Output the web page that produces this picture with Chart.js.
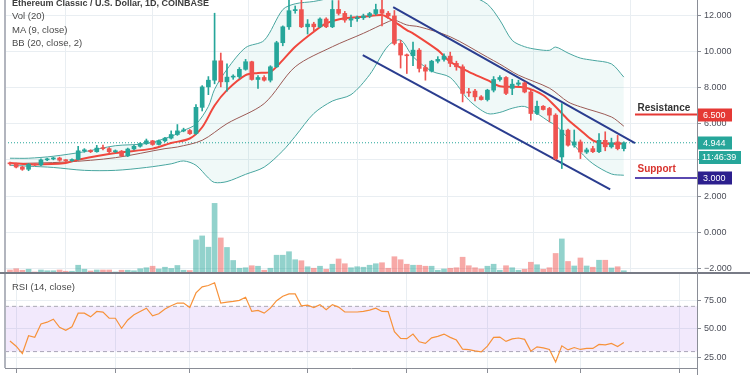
<!DOCTYPE html>
<html>
<head>
<meta charset="utf-8">
<script src="https://cdn.jsdelivr.net/npm/chart.js@4.4.0/dist/chart.umd.min.js"></script>
<style>
  body { margin: 0; background: #fff; }
  #wrap { position: relative; width: 750px; height: 375px; overflow: hidden; font-family: "Liberation Sans", Arial, sans-serif; }
  canvas { position: absolute; left: 0; }
  #main { top: 0; }
  #rsi { top: 274px; }
  .lbl { position: absolute; left: 12px; font-size: 9.5px; line-height: 12px; color: #4a4a4a; white-space: nowrap; }
  .title { font-weight: bold; font-size: 9px; color: #3c3c3c; }
  .line { position: absolute; }
</style>
</head>
<body>
<div id="wrap">
  <canvas id="main" width="750" height="273" style="width:750px;height:273px"></canvas>
  <canvas id="rsi" width="750" height="101" style="width:750px;height:101px"></canvas>
  <div class="line" style="left:4px;top:0;width:2px;height:368px;background:#b2b5be"></div>
  <div class="line" style="left:0;top:272px;width:750px;height:2px;background:#787b86"></div>
  <div class="line" style="left:697px;top:0;width:1px;height:375px;background:#8a8d96"></div>
  <div class="lbl title" style="top:-3px">Ethereum Classic / U.S. Dollar, 1D, COINBASE</div>
  <div class="lbl" style="top:10px">Vol (20)</div>
  <div class="lbl" style="top:23.5px">MA (9, close)</div>
  <div class="lbl" style="top:37px">BB (20, close, 2)</div>
  <div class="lbl" style="top:280.5px">RSI (14, close)</div>
</div>
<script>
// daily candles, 15 Dec 2019 .. 23 Mar 2020 (index = day)
const open = [3.80,3.78,3.60,3.48,3.75,3.72,4.00,4.05,4.10,3.98, 3.95,4.02,4.50,4.52,4.45,4.65,4.62,4.45,4.48,4.22,
  4.60,4.75,4.90,5.05,4.85,5.05,5.20,5.40,5.60,5.62, 5.45,6.90,8.03,8.40,9.47,8.31,8.57,8.60,9.00,9.42,
  8.44,8.55,8.40,9.14,10.47,11.35,12.24,12.30,11.35,11.50, 11.35,11.78,11.35,12.31,12.09,11.72,11.80,11.85,11.95,12.08,
  12.30,12.10,11.95,10.43,9.79,9.75,10.06,9.10,8.90,9.45, 9.55,9.73,9.33,9.14,7.75,7.80,7.48,7.33,7.85,8.44,
  8.55,7.95,8.18,8.25,7.75,6.56,6.96,6.84,6.47,4.16, 5.64,4.81,4.99,4.43,4.62,4.45,5.08,4.72,4.99,4.62];
const high = [3.88,3.82,3.65,3.80,3.80,4.05,4.10,4.15,4.15,4.02, 4.05,4.75,4.62,4.56,4.80,4.82,4.68,4.55,4.52,4.65,
  4.80,4.95,5.15,5.08,5.10,5.25,5.60,5.95,5.75,5.68, 7.05,8.10,8.60,12.10,9.90,9.30,8.70,9.10,9.55,9.45,
  8.65,8.65,9.20,10.55,11.40,12.90,12.50,13.00,11.75,11.60, 11.85,11.85,12.80,12.80,12.20,12.00,11.95,12.05,12.15,12.60,
  12.90,12.20,12.25,10.60,9.85,10.50,10.15,9.25,9.50,9.70, 9.85,9.95,9.45,9.25,7.95,7.90,7.55,7.90,8.60,8.65,
  8.60,8.45,8.40,8.30,7.85,7.25,7.00,6.90,6.55,7.11, 5.70,5.65,5.10,4.65,4.75,5.45,5.55,5.20,5.35,5.00];
const low = [3.70,3.55,3.42,3.40,3.68,3.68,3.95,4.00,3.92,3.90, 3.92,4.00,4.42,4.40,4.42,4.55,4.40,4.40,4.18,4.18,
  4.55,4.70,4.85,4.80,4.82,5.00,5.15,5.35,5.55,5.40, 5.40,6.70,7.60,8.20,8.03,7.80,8.45,8.50,8.95,8.40,
  7.95,8.35,8.30,9.10,10.30,11.20,12.10,11.30,10.95,11.10, 11.30,11.30,11.30,12.00,11.60,11.35,11.65,11.75,11.85,12.00,
  11.40,11.80,10.35,9.07,8.77,9.20,8.85,8.40,8.85,9.35, 9.45,9.15,8.95,7.20,7.50,7.25,7.30,7.25,7.75,8.35,
  7.60,7.60,8.10,7.70,6.19,6.50,6.75,6.10,4.00,3.52, 4.75,4.70,4.07,4.35,4.40,4.40,4.50,4.65,4.55,4.50];
const close = [3.78,3.60,3.48,3.75,3.72,4.00,4.05,4.10,3.98,3.95, 4.02,4.50,4.52,4.45,4.65,4.62,4.45,4.48,4.22,4.60,
  4.75,4.90,5.05,4.85,5.05,5.20,5.40,5.60,5.62,5.45, 6.90,8.03,8.40,9.47,8.31,8.57,8.60,9.00,9.42,8.44,
  8.55,8.40,9.14,10.47,11.35,12.24,12.30,11.35,11.50,11.35, 11.78,11.35,12.31,12.09,11.72,11.80,11.85,11.95,12.08,12.30,
  12.10,11.95,10.43,9.79,9.75,10.06,9.05,8.90,9.45,9.55, 9.73,9.33,9.14,7.67,7.70,7.48,7.33,7.85,8.44,8.55,
  7.67,8.18,8.25,7.75,6.56,6.96,6.78,6.47,4.07,5.64, 4.81,4.99,4.43,4.55,4.45,5.08,4.72,4.95,4.62,4.944];
// volume, millions
const volume = [1.2,1.7,1.1,1.5,0.4,1.2,0.9,0.9,1.2,0.7, 0.7,3.1,1.5,0.8,1.2,1.2,1.2,0.4,1.1,1.1,
  0.9,1.7,2.1,2.7,1.6,2.3,1.8,3.0,1.1,1.0, 13.2,14.8,10.3,27.8,14.0,10.2,5.0,1.9,2.1,2.9,
  2.7,1.1,1.9,7.1,7.1,8.5,5.3,4.9,2.5,1.9, 2.7,1.5,3.5,5.6,3.7,2.1,2.5,2.3,3.1,3.7,
  4.1,1.9,6.5,5.3,3.5,3.1,3.1,2.7,2.7,1.1, 1.6,1.9,2.1,6.3,2.9,2.1,1.6,2.7,3.5,1.1,
  2.9,2.1,1.1,1.5,4.3,3.3,1.5,2.1,7.8,13.6, 4.6,2.8,6.0,2.8,2.3,5.1,5.1,2.0,2.5,0.9];
const rsi = [39.3,34.8,28.3,44.0,42.6,54.5,56.0,58.6,51.5,48.8, 52.0,64.0,64.0,60.7,65.5,64.9,59.5,59.5,50.6,58.0,
  62.5,65.5,68.4,61.6,63.4,67.6,70.5,72.9,72.9,69.0, 81.9,87.2,88.4,90.8,72.9,73.8,74.4,75.3,78.0,65.5,
  66.4,64.0,68.4,75.0,78.9,81.0,81.0,70.5,71.0,69.0, 71.5,67.0,71.5,69.3,65.0,65.0,65.0,65.5,66.7,68.4,
  65.5,65.4,47.6,41.7,41.4,45.5,38.7,37.2,42.2,43.5, 45.5,42.6,40.2,32.1,31.8,30.6,29.7,34.8,42.6,42.8,
  39.0,41.2,42.0,40.8,30.4,34.2,33.3,31.9,20.8,35.1, 31.5,33.6,31.9,32.8,32.8,36.3,36.0,37.2,34.5,38.1];

// indicator lines
const maIdx = [0,4,9,11,17,23,26,29,31,33,35,38,40,42,44,46,49,51,54,57,60,61,64,65,69,71,74,77,79,83,86,88,90,92,94,96,99];
const maVal = [3.83,3.75,3.83,4.01,4.38,4.62,4.93,5.18,5.8,7.0,7.85,8.68,8.8,8.86,9.51,10.25,11.08,11.54,11.82,11.9,
  12.0,11.85,11.17,10.99,10.06,9.42,8.86,8.4,8.07,8.0,7.57,6.93,6.22,5.64,5.08,4.9,4.9];
const basisIdx = [0,9,17,25,27,31,35,41,46,52,57,61,62,64,66,71,77,79,82,87,90,92,97,99];
const basisVal = [3.79,3.88,4.12,4.62,4.71,5.08,6.0,7.11,9.14,10.25,10.99,11.63,11.72,11.45,11.35,10.8,9.67,9.29,8.68,7.96,7.2,6.93,6.37,5.86];
const bbIdx = [0,3,7,12,17,22,26,28,30,32,33,35,38,41,44,46,49,52,55,58,61,63,65,68,71,74,77,79,81,83,85,87,88,90,92,94,97,99];
const bbUpper = [4.09,4.09,4.2,4.45,4.78,4.9,5.3,5.62,5.97,6.95,7.9,9.0,10.2,10.6,12.3,12.62,12.75,12.95,13.05,13.1,
  13.2,13.3,13.4,13.5,13.4,13.1,12.6,11.72,10.6,10.25,10.1,10.05,10.23,9.9,9.62,9.5,9.3,8.57];
const bbLower = [3.7,3.65,3.58,3.42,3.42,3.58,3.78,3.94,3.7,3.0,2.75,2.8,3.2,3.6,4.5,5.3,6.56,7.25,7.6,8.7,
  10.3,10.62,9.7,8.9,8.55,7.3,6.56,6.62,6.85,6.95,6.57,6.1,5.91,5.2,4.43,3.79,3.22,3.15];

// drawn channel and levels
const trendUpX = [61.8, 100.8], trendUpY = [12.44, 4.92];
const trendLoX = [56.9, 96.8], trendLoY = [9.79, 2.37];
const resistance = 6.5, support = 3.0, lastPrice = 4.944, countdown = '11:46:39';

const gridDays = [1, 17, 29, 48, 64, 77, 92, 108];
const priceTicks = [-2, 0, 2, 4, 6, 8, 10, 12];
const rsiTicks = [25, 50, 75];
const xMin = -0.8, xMax = 110.8;

const up = '#26a69a', down = '#ef5350';
const gridColor = '#e9eef2';
const font = '"Liberation Sans", Arial, sans-serif';
const days = close.map((c, i) => i);
const isUp = days.map(i => close[i] >= open[i]);
const xy = (xs, ys) => xs.map((x, i) => ({ x: x, y: ys[i] }));
const flat = (v, a, b) => [{ x: a, y: v }, { x: b, y: v }];

const lineDs = (data, color, width, order, extra) => Object.assign({
  type: 'line', data: data, borderColor: color, borderWidth: width,
  pointRadius: 0, fill: false, order: order
}, extra || {});

const priceMarks = {
  id: 'priceMarks',
  afterDraw(chart) {
    const { ctx, scales: { x, y } } = chart;
    const ax = chart.chartArea.right;
    const box = (v, color, text, w) => {
      const py = Math.round(y.getPixelForValue(v));
      ctx.fillStyle = color;
      ctx.fillRect(ax, py - 6.5, w, 13);
      ctx.fillStyle = '#fff';
      ctx.fillText(text, ax + 6, py + 0.5);
      return py;
    };
    ctx.save();
    ctx.font = '9px ' + font;
    ctx.textBaseline = 'middle';
    box(resistance, '#e53935', resistance.toFixed(3), 35);
    const py = box(lastPrice, up, lastPrice.toFixed(3), 35);
    ctx.fillStyle = up;
    ctx.fillRect(ax + 2, py + 8, 42, 13);
    ctx.fillStyle = '#fff';
    ctx.fillText(countdown, ax + 5, py + 14.5);
    box(support, '#2c1f8e', support.toFixed(3), 35);

    ctx.font = 'bold 10px ' + font;
    ctx.textBaseline = 'alphabetic';
    const tx = x.getPixelForValue(101.2);
    ctx.fillStyle = '#333';
    ctx.fillText('Resistance', tx, y.getPixelForValue(resistance) - 4);
    ctx.fillStyle = '#d8322d';
    ctx.fillText('Support', tx, y.getPixelForValue(support) - 6);
    ctx.restore();
  }
};

const axisFit = s => { s.width = 53; s.paddingTop = 0; s.paddingBottom = 0; };
const tickFont = { family: font, size: 9 };

new Chart(document.getElementById('main'), {
  type: 'bar',
  data: {
    datasets: [
      { type: 'bar', data: days.map(i => ({ x: i, y: [open[i], close[i]] })),
        backgroundColor: days.map(i => isUp[i] ? up : down), barThickness: 4, minBarLength: 1,
        grouped: false, order: 0 },
      { type: 'bar', data: days.map(i => ({ x: i, y: [low[i], high[i]] })),
        backgroundColor: days.map(i => isUp[i] ? up : down), barThickness: 1,
        grouped: false, order: 1 },
      lineDs(xy(trendUpX, trendUpY), '#2a3d8f', 2, 2),
      lineDs(xy(trendLoX, trendLoY), '#2a3d8f', 2, 2),
      lineDs(flat(resistance, 100.8, xMax), '#e53935', 2, 2),
      lineDs(flat(support, 100.8, xMax), '#5a48b0', 2, 2),
      lineDs(xy(maIdx, maVal), '#f0473d', 2, 3, { tension: 0.3 }),
      lineDs(xy(basisIdx, basisVal), '#9b5a55', 1, 4, { tension: 0.3 }),
      lineDs(xy(bbIdx, bbUpper), '#4aa6a0', 1, 5, { tension: 0.3, fill: '+1', backgroundColor: 'rgba(38,166,154,0.07)' }),
      lineDs(xy(bbIdx, bbLower), '#4aa6a0', 1, 5, { tension: 0.3 }),
      lineDs(flat(lastPrice, xMin, xMax), up, 1, 6, { borderDash: [1, 2] }),
      { type: 'bar', yAxisID: 'vol', data: days.map(i => ({ x: i, y: volume[i] })),
        backgroundColor: days.map(i => isUp[i] ? 'rgba(38,166,154,0.5)' : 'rgba(239,83,80,0.5)'),
        barThickness: 5, grouped: false, order: 7 }
    ]
  },
  options: {
    responsive: false, animation: false, events: [],
    layout: { padding: { left: 5, right: 0, top: 0, bottom: 0 } },
    plugins: { legend: { display: false }, tooltip: { enabled: false } },
    scales: {
      x: { type: 'linear', min: xMin, max: xMax, offset: false,
        afterBuildTicks: s => { s.ticks = gridDays.map(v => ({ value: v })); },
        ticks: { display: false }, grid: { color: gridColor, drawTicks: false }, border: { display: false } },
      y: { position: 'right', min: -2.25, max: 12.83,
        afterBuildTicks: s => { s.ticks = priceTicks.map(v => ({ value: v })); },
        afterFit: axisFit,
        ticks: { font: tickFont, color: '#4c4f59', padding: 3,
          callback: v => (v < 0 ? '\u2212' : '') + Math.abs(v).toFixed(3) },
        grid: { color: gridColor, tickColor: '#8a8d96', tickLength: 4 },
        border: { color: '#8a8d96' } },
      vol: { display: false, min: 0, max: 109 }
    }
  },
  plugins: [priceMarks]
});

new Chart(document.getElementById('rsi'), {
  type: 'line',
  data: {
    datasets: [
      lineDs(xy(days, rsi), '#f7923a', 1.2, 0),
      lineDs(flat(70, xMin, xMax), '#aaaab4', 1, 1, { borderDash: [4, 3], fill: '+1', backgroundColor: 'rgba(149,76,233,0.12)' }),
      lineDs(flat(30, xMin, xMax), '#aaaab4', 1, 1, { borderDash: [4, 3] })
    ]
  },
  options: {
    responsive: false, animation: false, events: [],
    layout: { padding: { left: 5, right: 0, top: 0, bottom: 2 } },
    plugins: { legend: { display: false }, tooltip: { enabled: false } },
    scales: {
      x: { type: 'linear', min: xMin, max: xMax, offset: false,
        afterBuildTicks: s => { s.ticks = gridDays.map(v => ({ value: v })); },
        ticks: { display: false },
        grid: { color: gridColor, tickColor: '#8a8d96', tickLength: 5 },
        border: { color: '#8a8d96' } },
      y: { position: 'right', min: 15.5, max: 98.6,
        afterBuildTicks: s => { s.ticks = rsiTicks.map(v => ({ value: v })); },
        afterFit: axisFit,
        ticks: { font: tickFont, color: '#4c4f59', padding: 3, callback: v => v.toFixed(2) },
        grid: { color: gridColor, tickColor: '#8a8d96', tickLength: 4 },
        border: { color: '#8a8d96' } }
    }
  }
});
</script>
</body>
</html>
